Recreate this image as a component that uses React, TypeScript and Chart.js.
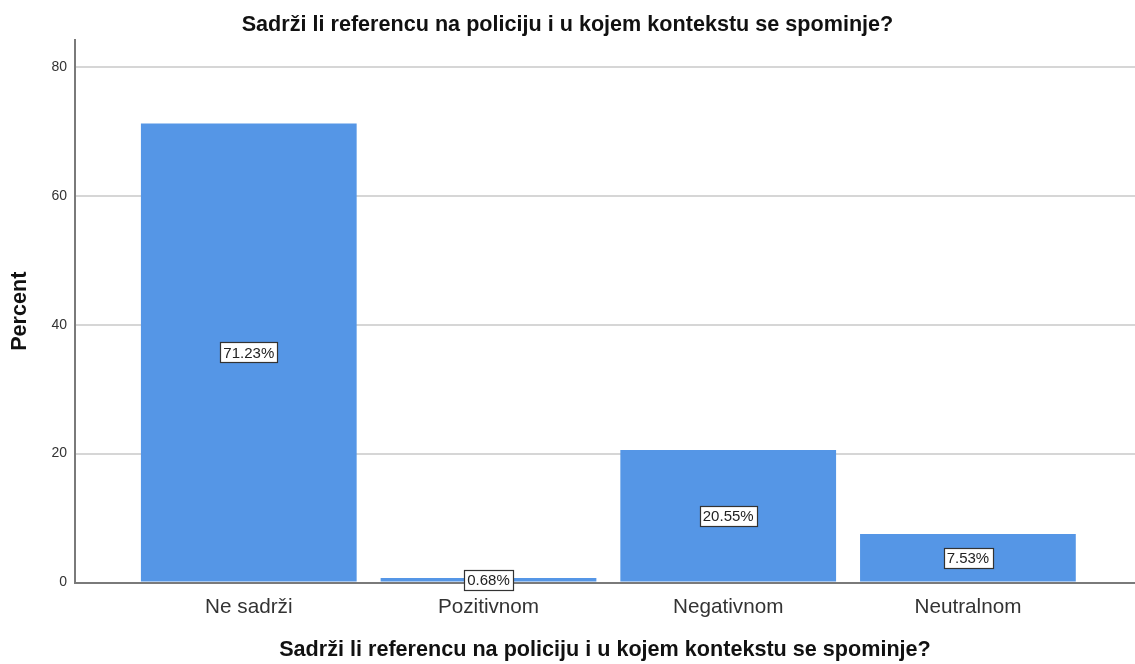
import React, { useEffect, useRef } from "react";
import { Chart, registerables } from "chart.js";

Chart.register(...registerables);

const categories = ["Ne sadrži", "Pozitivnom", "Negativnom", "Neutralnom"];
const percentValues = [71.23, 0.68, 20.55, 7.53];
const valueLabels = ["71.23%", "0.68%", "20.55%", "7.53%"];
const yTickValues = [0, 20, 40, 60, 80];

const titleText = "Sadrži li referencu na policiju i u kojem kontekstu se spominje?";
const FONT = "'Liberation Sans', Arial, sans-serif";

const boxLabelPlugin = {
  id: "boxLabels",
  afterDatasetsDraw(chart: any) {
    const ctx = chart.ctx;
    const meta = chart.getDatasetMeta(0);
    ctx.save();
    ctx.font = `15px ${FONT}`;
    ctx.textAlign = "center";
    ctx.textBaseline = "middle";
    meta.data.forEach((bar: any, i: number) => {
      const { x, y, base } = bar.getProps(["x", "y", "base"], true);
      const cy = (y + base) / 2;
      const text = valueLabels[i];
      const w = ctx.measureText(text).width + 6;
      const h = 20;
      ctx.fillStyle = "#ffffff";
      ctx.fillRect(Math.round(x - w / 2) + 0.5, Math.round(cy - h / 2) + 0.5, Math.round(w), h);
      ctx.strokeStyle = "#333333";
      ctx.lineWidth = 1.2;
      ctx.strokeRect(Math.round(x - w / 2) + 0.5, Math.round(cy - h / 2) + 0.5, Math.round(w), h);
      ctx.fillStyle = "#222222";
      ctx.fillText(text, x, cy + 1);
    });
    ctx.restore();
  },
};

export default function App() {
  const canvasRef = useRef<HTMLCanvasElement | null>(null);

  useEffect(() => {
    document.body.style.margin = "0";
    const canvas = canvasRef.current;
    if (!canvas) return;
    const chart = new Chart(canvas, {
      type: "bar",
      data: {
        datasets: [
          {
            label: "Percent",
            data: percentValues.map((v, i) => ({ x: i, y: v })),
            backgroundColor: "#5596e6",
            borderWidth: 0,
            categoryPercentage: 1,
            barPercentage: 0.9,
          },
        ],
      },
      options: {
        animation: false,
        responsive: false,
        maintainAspectRatio: false,
        layout: { padding: { left: 0, right: 0, top: 0, bottom: 0 } },
        plugins: {
          legend: { display: false },
          tooltip: { enabled: false },
          title: {
            display: true,
            text: titleText,
            color: "#111111",
            font: { family: FONT, size: 21.6, weight: "bold", lineHeight: 1.2 },
            padding: { top: 12, bottom: 2 },
          },
        },
        scales: {
          x: {
            type: "linear",
            offset: false,
            min: -0.725,
            max: 3.697,
            afterFit(scale: any) {
              scale.height = 81.5;
            },
            grid: { display: false, drawTicks: false },
            border: { display: true, color: "#7a7a7a", width: 2 },
            ticks: {
              stepSize: 1,
              includeBounds: false,
              padding: 12,
              color: "#333333",
              font: { family: FONT, size: 20.7 },
              maxRotation: 0,
              autoSkip: false,
              callback: (value: any) => categories[value as number] ?? "",
            },
            title: {
              display: true,
              text: titleText,
              color: "#111111",
              font: { family: FONT, size: 21.6, weight: "bold", lineHeight: 1.2 },
              padding: { top: 4, bottom: 1 },
            },
          },
          y: {
            type: "linear",
            min: 0,
            max: 84.2,
            afterFit(scale: any) {
              scale.width = 75;
            },
            afterBuildTicks(scale: any) {
              scale.ticks = yTickValues.map((v) => ({ value: v }));
            },
            grid: {
              color: (c: any) => (c.tick && c.tick.value === 0 ? "rgba(0,0,0,0)" : "#d6d6d6"),
              lineWidth: 2,
              drawTicks: false,
            },
            border: { display: true, color: "#7a7a7a", width: 2 },
            ticks: {
              stepSize: 20,
              includeBounds: false,
              padding: 8,
              color: "#333333",
              font: { family: FONT, size: 14 },
            },
            title: {
              display: true,
              text: "Percent",
              color: "#111111",
              font: { family: FONT, size: 21.6, weight: "bold", lineHeight: 1.2 },
              padding: { top: 7, bottom: 4 },
            },
          },
        },
      } as any,
      plugins: [boxLabelPlugin],
    });
    return () => chart.destroy();
  }, []);

  return (
    <div style={{ width: 1135, height: 664 }}>
      <canvas ref={canvasRef} width={1135} height={664} style={{ display: "block" }} />
    </div>
  );
}
